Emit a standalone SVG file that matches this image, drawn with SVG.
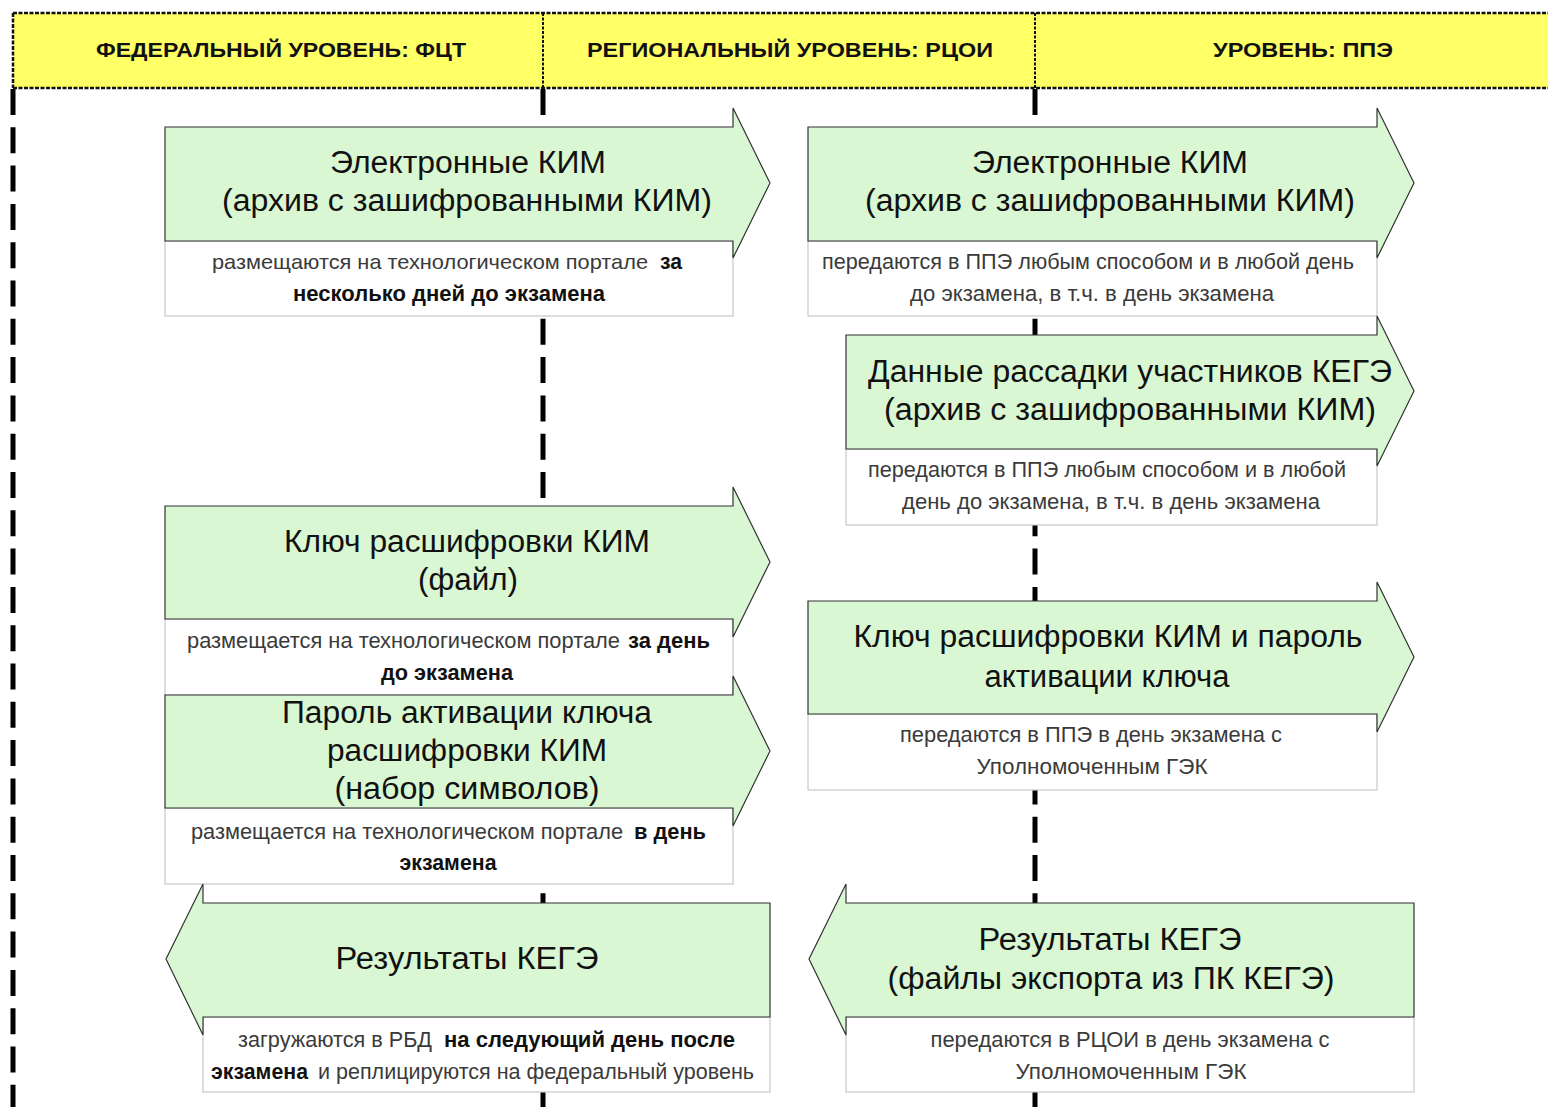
<svg xmlns="http://www.w3.org/2000/svg" width="1548" height="1107" viewBox="0 0 1548 1107">
<style>
.hdr{fill:#ffff66;stroke:none}
.hb{stroke:#111;stroke-width:2.5;stroke-dasharray:4 1.5;fill:none}
.hd{stroke:#111;stroke-width:2;stroke-dasharray:3 1.5;fill:none}
.lane{stroke:#000;stroke-width:5;stroke-dasharray:26 12.3;fill:none}
.arr{fill:#d9f7d3;stroke:#333;stroke-width:1.2}
.cap{fill:#fff;stroke:#c8c8c8;stroke-width:1.2}
.ht{font-family:"Liberation Sans",Arial,sans-serif;font-size:20px;font-weight:bold;fill:#111;text-anchor:middle}
.tt{font-family:"Liberation Sans",Arial,sans-serif;font-size:31px;fill:#111;text-anchor:middle}
.ct{font-family:"Liberation Sans",Arial,sans-serif;font-size:22.5px;fill:#3a3a3a;text-anchor:middle}
.s{text-anchor:start}
.b{font-weight:bold;fill:#111}
</style>
<rect width="1548" height="1107" fill="#fff"/>
<g id="header">
<rect class="hdr" x="13" y="13" width="1540" height="75"/>
<line class="hb" x1="13" y1="13" x2="1548" y2="13"/>
<line class="hb" x1="13" y1="88" x2="1548" y2="88"/>
<line class="hb" x1="13" y1="13" x2="13" y2="88"/>
<line class="hd" x1="543" y1="13" x2="543" y2="88"/>
<line class="hd" x1="1035" y1="13" x2="1035" y2="88"/>
<text class="ht" x="281" y="57" textLength="370" lengthAdjust="spacingAndGlyphs">ФЕДЕРАЛЬНЫЙ УРОВЕНЬ: ФЦТ</text>
<text class="ht" x="790" y="57" textLength="406" lengthAdjust="spacingAndGlyphs">РЕГИОНАЛЬНЫЙ УРОВЕНЬ: РЦОИ</text>
<text class="ht" x="1303" y="57" textLength="180" lengthAdjust="spacingAndGlyphs">УРОВЕНЬ: ППЭ</text>
</g>
<g id="connectors">
<line class="lane" x1="13" y1="89" x2="13" y2="1107"/>
<line class="lane" x1="543" y1="89" x2="543" y2="1107"/>
<line class="lane" x1="1035" y1="89" x2="1035" y2="1107"/>
</g>
<g id="node-fct-kim">
<rect class="cap" x="165" y="241" width="568" height="75"/>
<polygon class="arr" points="165,127 733,127 733,108 770,183 733,258 733,241 165,241"/>
<text class="tt" x="468" y="173" textLength="276" lengthAdjust="spacingAndGlyphs">Электронные КИМ</text>
<text class="tt" x="467" y="211" textLength="490" lengthAdjust="spacingAndGlyphs">(архив с зашифрованными КИМ)</text>
<text class="ct s" x="212" y="269" style="font-size:21px" textLength="436" lengthAdjust="spacingAndGlyphs">размещаются на технологическом портале</text>
<text class="ct s b" x="660" y="269" textLength="22" lengthAdjust="spacingAndGlyphs">за</text>
<text class="ct b" x="449" y="301" textLength="312" lengthAdjust="spacingAndGlyphs">несколько дней до экзамена</text>
</g>
<g id="node-rcoi-kim">
<rect class="cap" x="808" y="241" width="569" height="75"/>
<polygon class="arr" points="808,127 1377,127 1377,108 1414,183 1377,258 1377,241 808,241"/>
<text class="tt" x="1110" y="173" textLength="276" lengthAdjust="spacingAndGlyphs">Электронные КИМ</text>
<text class="tt" x="1110" y="211" textLength="490" lengthAdjust="spacingAndGlyphs">(архив с зашифрованными КИМ)</text>
<text class="ct" x="1088" y="269" textLength="532" lengthAdjust="spacingAndGlyphs">передаются в ППЭ любым способом и в любой день</text>
<text class="ct" x="1092" y="301" textLength="364" lengthAdjust="spacingAndGlyphs">до экзамена, в т.ч. в день экзамена</text>
</g>
<g id="node-rcoi-seating">
<rect class="cap" x="846" y="449" width="531" height="76"/>
<polygon class="arr" points="846,335 1377,335 1377,316 1414,391 1377,466 1377,449 846,449"/>
<text class="tt" x="1130" y="382" textLength="524" lengthAdjust="spacingAndGlyphs">Данные рассадки участников КЕГЭ</text>
<text class="tt" x="1130" y="420" textLength="492" lengthAdjust="spacingAndGlyphs">(архив с зашифрованными КИМ)</text>
<text class="ct" x="1107" y="477" textLength="478" lengthAdjust="spacingAndGlyphs">передаются в ППЭ любым способом и в любой</text>
<text class="ct" x="1111" y="509" textLength="418" lengthAdjust="spacingAndGlyphs">день до экзамена, в т.ч. в день экзамена</text>
</g>
<g id="node-fct-key">
<rect class="cap" x="165" y="619" width="568" height="76"/>
<polygon class="arr" points="165,506 733,506 733,487 770,562 733,637 733,619 165,619"/>
<text class="tt" x="467" y="552" textLength="366" lengthAdjust="spacingAndGlyphs">Ключ расшифровки КИМ</text>
<text class="tt" x="468" y="590" textLength="100" lengthAdjust="spacingAndGlyphs">(файл)</text>
<text class="ct s" x="187" y="648" textLength="433" lengthAdjust="spacingAndGlyphs">размещается на технологическом портале</text>
<text class="ct s b" x="628" y="648" textLength="82" lengthAdjust="spacingAndGlyphs">за день</text>
<text class="ct b" x="447" y="680" textLength="132" lengthAdjust="spacingAndGlyphs">до экзамена</text>
</g>
<g id="node-fct-password">
<rect class="cap" x="165" y="808" width="568" height="76"/>
<polygon class="arr" points="165,695 733,695 733,676 770,751 733,826 733,808 165,808"/>
<text class="tt" x="467" y="723" textLength="370" lengthAdjust="spacingAndGlyphs">Пароль активации ключа</text>
<text class="tt" x="467" y="761" textLength="280" lengthAdjust="spacingAndGlyphs">расшифровки КИМ</text>
<text class="tt" x="467" y="799" textLength="265" lengthAdjust="spacingAndGlyphs">(набор символов)</text>
<text class="ct s" x="191" y="839" textLength="432" lengthAdjust="spacingAndGlyphs">размещается на технологическом портале</text>
<text class="ct s b" x="634" y="839" textLength="72" lengthAdjust="spacingAndGlyphs">в день</text>
<text class="ct b" x="448" y="870" textLength="97" lengthAdjust="spacingAndGlyphs">экзамена</text>
</g>
<g id="node-rcoi-key">
<rect class="cap" x="808" y="714" width="569" height="76"/>
<polygon class="arr" points="808,601 1377,601 1377,582 1414,657 1377,732 1377,714 808,714"/>
<text class="tt" x="1108" y="647" textLength="509" lengthAdjust="spacingAndGlyphs">Ключ расшифровки КИМ и пароль</text>
<text class="tt" x="1107" y="687" textLength="245" lengthAdjust="spacingAndGlyphs">активации ключа</text>
<text class="ct" x="1091" y="742" textLength="382" lengthAdjust="spacingAndGlyphs">передаются в ППЭ в день экзамена с</text>
<text class="ct" x="1092" y="774" textLength="231" lengthAdjust="spacingAndGlyphs">Уполномоченным ГЭК</text>
</g>
<g id="node-fct-results">
<rect class="cap" x="203" y="1017" width="567" height="75"/>
<polygon class="arr" points="770,903 203,903 203,884 166,959 203,1035 203,1017 770,1017"/>
<text class="tt" x="467" y="969" textLength="263" lengthAdjust="spacingAndGlyphs">Результаты КЕГЭ</text>
<text class="ct s" x="238" y="1047" textLength="194" lengthAdjust="spacingAndGlyphs">загружаются в РБД</text>
<text class="ct s b" x="444" y="1047" textLength="291" lengthAdjust="spacingAndGlyphs">на следующий день после</text>
<text class="ct s b" x="211" y="1079" textLength="97" lengthAdjust="spacingAndGlyphs">экзамена</text>
<text class="ct s" x="318" y="1079" textLength="436" lengthAdjust="spacingAndGlyphs">и реплицируются на федеральный уровень</text>
</g>
<g id="node-rcoi-results">
<rect class="cap" x="846" y="1017" width="568" height="75"/>
<polygon class="arr" points="1414,903 846,903 846,884 809,959 846,1035 846,1017 1414,1017"/>
<text class="tt" x="1110" y="950" textLength="263" lengthAdjust="spacingAndGlyphs">Результаты КЕГЭ</text>
<text class="tt" x="1111" y="989" textLength="447" lengthAdjust="spacingAndGlyphs">(файлы экспорта из ПК КЕГЭ)</text>
<text class="ct" x="1130" y="1047" textLength="399" lengthAdjust="spacingAndGlyphs">передаются в РЦОИ в день экзамена с</text>
<text class="ct" x="1131" y="1079" textLength="231" lengthAdjust="spacingAndGlyphs">Уполномоченным ГЭК</text>
</g>
</svg>
